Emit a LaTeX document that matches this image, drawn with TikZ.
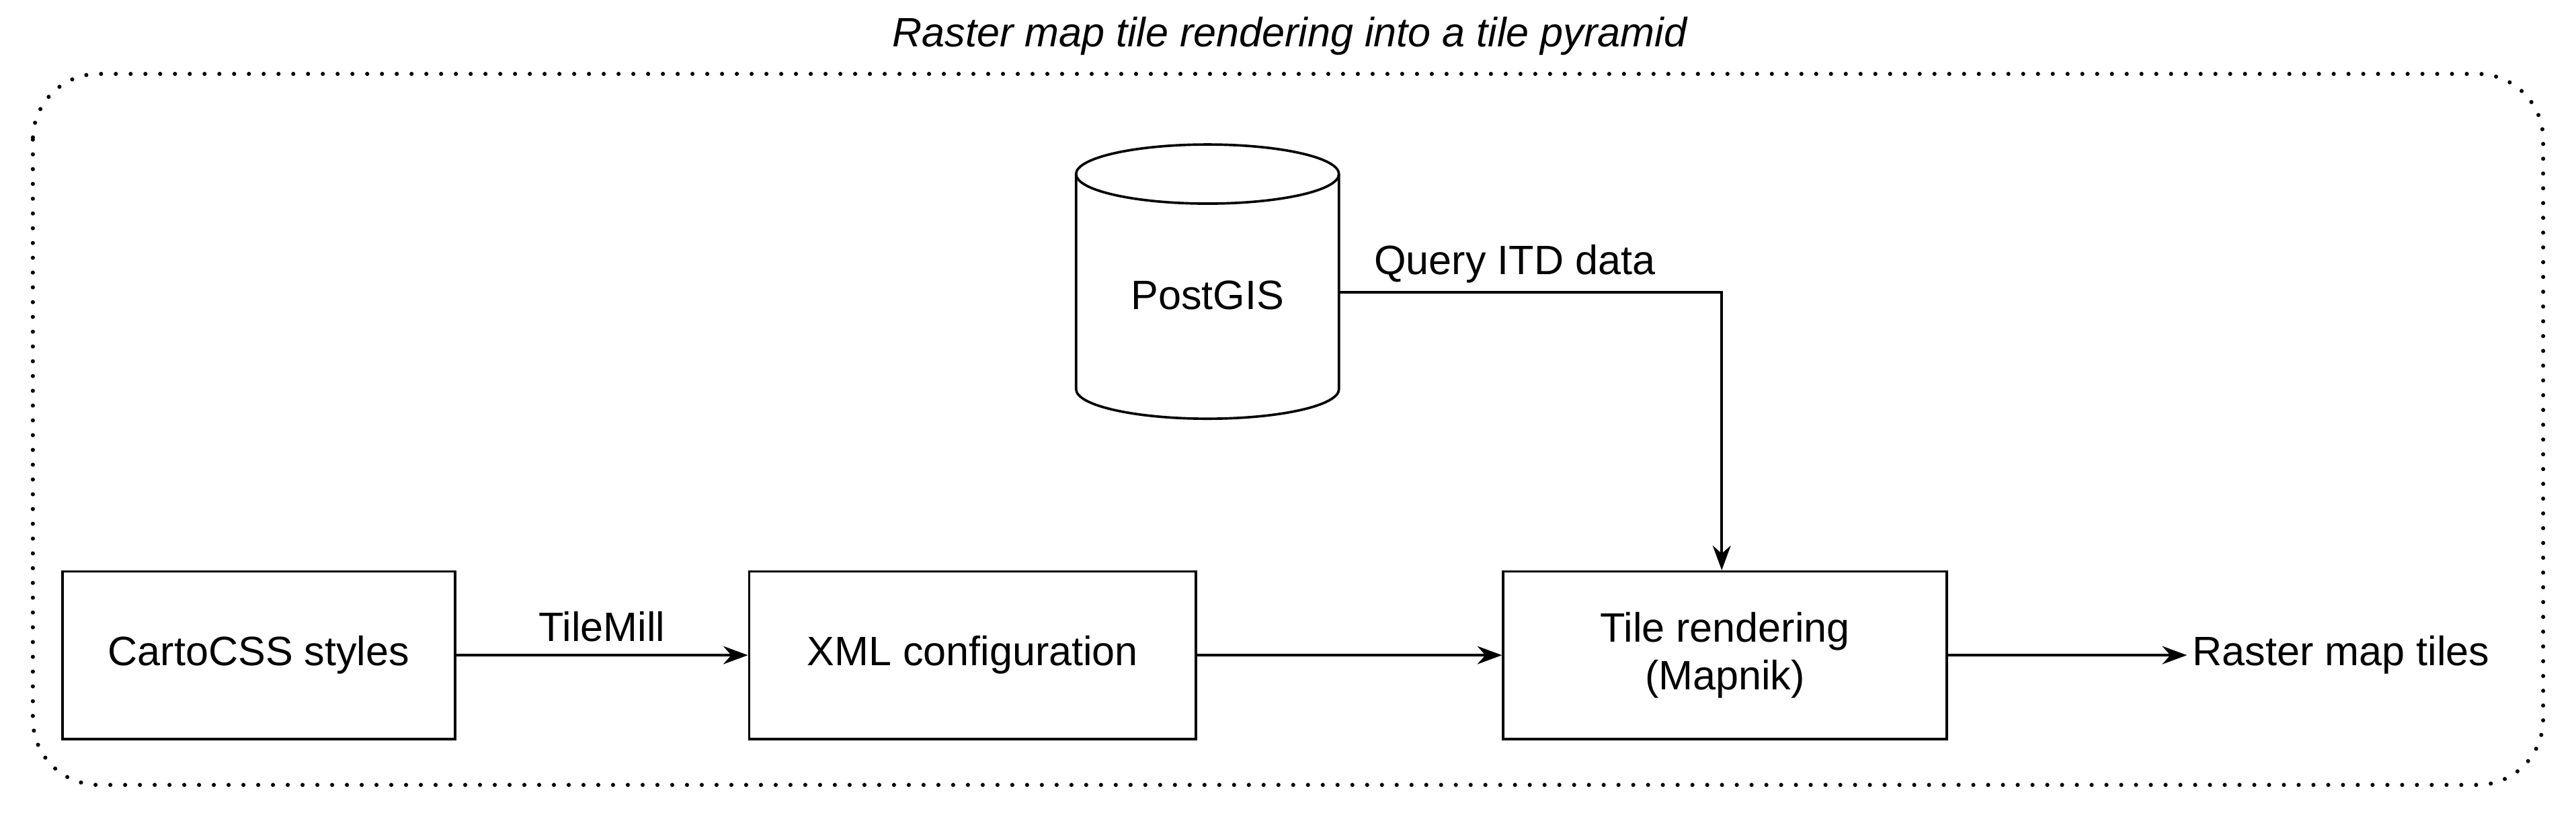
\documentclass[tikz,border=0pt]{standalone}
\usepackage{fontspec}
\setmainfont{Liberation Sans}
\usetikzlibrary{arrows.meta}
\begin{document}
\begin{tikzpicture}[x=1pt,y=-1pt,
  box/.style={draw,line width=1.5pt,minimum width=240pt,minimum height=102pt,font=\fontsize{25}{29}\selectfont},
  lbl/.style={font=\fontsize{25}{29}\selectfont},
  arr/.style={-{Stealth[length=15pt,width=11pt]},line width=1.5pt}]
\useasboundingbox (0,0) rectangle (1568,495);
\draw[line width=2.5pt,line cap=round,dash pattern=on 0pt off 9pt,rounded corners=40pt] (20,45) rectangle (1548,478);
\node[font=\fontsize{25}{29}\selectfont\itshape] (title) at (785,22) {Raster map tile rendering into a tile pyramid};
\node[box,minimum width=239pt] (css) at (157.5,399) {CartoCSS styles};
\node[box,minimum width=272pt] (xml) at (592,399) {XML configuration};
\node[box,minimum width=270pt,align=center] (tile) at (1050,399) {Tile rendering\\(Mapnik)};
% cylinder
\draw[line width=1.5pt,fill=white] (655,106) -- (655,237) arc[start angle=180,end angle=0,x radius=80,y radius=18] -- (815,106);
\draw[line width=1.5pt] (735,106) ellipse[x radius=80,y radius=18];
\node[lbl] (pg) at (735,180) {PostGIS};
\coordinate (pgr) at (815,178);
\node[lbl] (out) at (1425,399) {Raster map tiles};
\draw[arr] (pgr) -- (1048,178) -- (tile.north -| 1048,0);
\node[lbl,anchor=south] at (922,176) {Query ITD data};
\draw[arr] (css) -- node[lbl,above=4pt]{TileMill} (xml);
\draw[arr] (xml) -- (tile);
\draw[arr] (tile) -- (out);
\end{tikzpicture}
\end{document}
